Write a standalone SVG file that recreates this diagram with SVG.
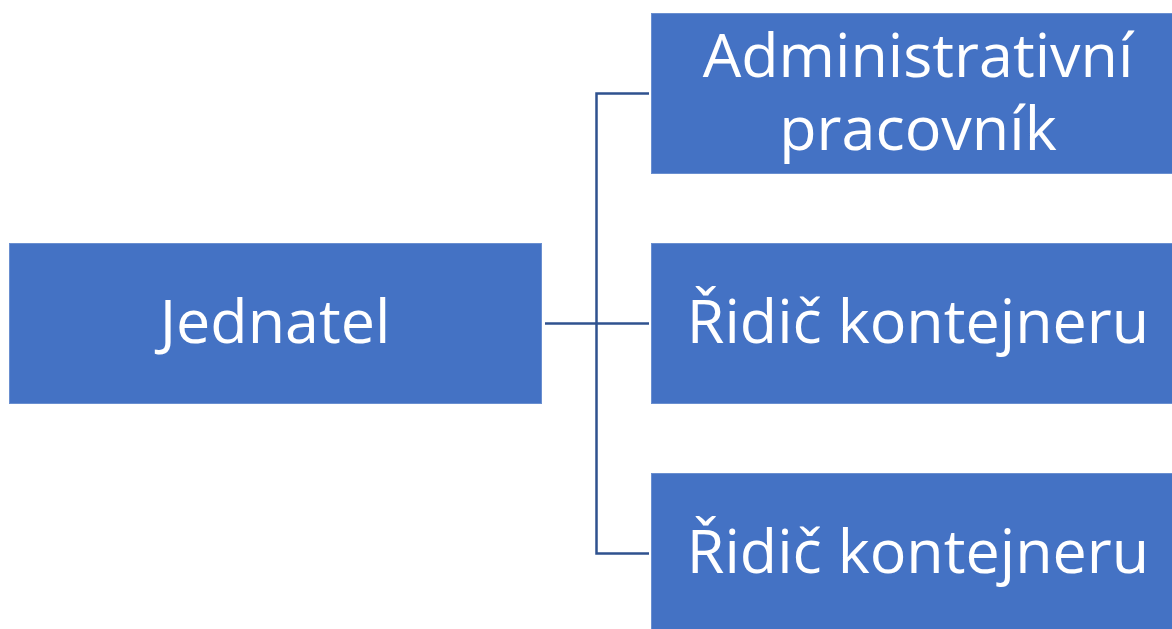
<svg xmlns="http://www.w3.org/2000/svg" width="1172" height="629" viewBox="0 0 1172 629">
  <style>
    .box { fill: #4472C4; stroke: #6A8FD0; stroke-width: 1; }
    .label { font-family: "Open Sans", "Noto Sans", "Liberation Sans", sans-serif; font-size: 61px; fill: #FFFFFF; text-anchor: middle; }
    .link { fill: none; stroke: #2F528F; stroke-width: 2.5; }
  </style>
  <rect width="1172" height="629" fill="#FFFFFF"/>

  <g id="connectors">
    <path class="link" d="M545,323.5 H596.5"/>
    <path class="link" d="M649,93.5 H596.5 V553.5 H649"/>
    <path class="link" d="M596.5,323.5 H649"/>
  </g>

  <g id="node-jednatel">
    <rect class="box" x="9.5" y="243.5" width="532" height="160"/>
    <text class="label" x="275" y="343">Jednatel</text>
  </g>

  <g id="node-administrativni">
    <rect class="box" x="651.5" y="13.5" width="532" height="160"/>
    <text class="label" x="918" y="77">Administrativní</text>
    <text class="label" x="918" y="150">pracovník</text>
  </g>

  <g id="node-ridic-1">
    <rect class="box" x="651.5" y="243.5" width="532" height="160"/>
    <text class="label" x="918" y="343">Řidič kontejneru</text>
  </g>

  <g id="node-ridic-2">
    <rect class="box" x="651.5" y="473.5" width="532" height="160"/>
    <text class="label" x="918" y="573">Řidič kontejneru</text>
  </g>
</svg>
